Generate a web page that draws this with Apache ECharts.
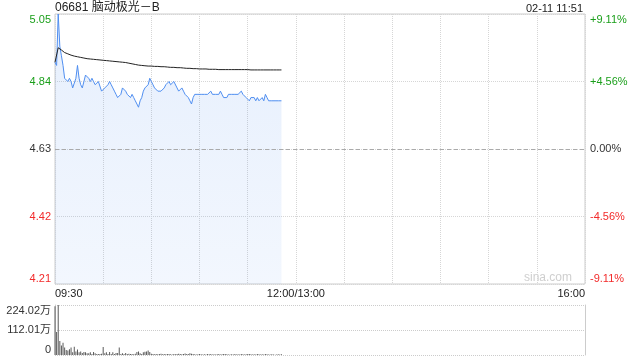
<!DOCTYPE html>
<html>
<head>
<meta charset="utf-8">
<script src="https://cdn.jsdelivr.net/npm/echarts@6/dist/echarts.min.js"></script>
<style>html,body{margin:0;padding:0;background:#fff;}#c{width:640px;height:360px;}</style>
</head>
<body>
<div id="c"></div>
<script>
// ---- data ----
var titleText = '06681 脑动极光－B';
var timeText = '02-11 11:51';
var prevClose = 4.63;
var priceTickLabels = ['4.21', '4.42', '4.63', '4.84', '5.05'];
var pctTickLabels = ['-9.11%', '-4.56%', '0.00%', '+4.56%', '+9.11%'];
var volTickLabels = ['0', '112.01万', '224.02万'];
var volTickValues = [0, 112.01, 224.02];
var timeTickPos = [0, 150, 330];
var timeTickLabels = ['09:30', '12:00/13:00', '16:00'];
var sessionMinutes = 330;

var prices = [
4.90,4.89,5.05,4.95,4.92,4.89,4.85,4.85,4.84,4.85,
4.84,4.82,4.82,4.85,4.89,4.85,4.83,4.82,4.84,4.86,
4.86,4.85,4.84,4.85,4.84,4.83,4.83,4.84,4.84,4.81,
4.81,4.82,4.82,4.83,4.84,4.83,4.82,4.81,4.80,4.79,
4.79,4.80,4.82,4.82,4.81,4.80,4.80,4.79,4.80,4.79,
4.78,4.77,4.76,4.78,4.79,4.81,4.82,4.82,4.83,4.85,
4.84,4.83,4.82,4.82,4.81,4.81,4.81,4.81,4.82,4.83,
4.83,4.84,4.83,4.83,4.84,4.84,4.82,4.81,4.81,4.82,
4.81,4.80,4.80,4.79,4.78,4.77,4.79,4.80,4.80,4.80,
4.80,4.80,4.80,4.80,4.80,4.80,4.80,4.81,4.80,4.80,
4.80,4.80,4.80,4.81,4.80,4.79,4.79,4.79,4.80,4.80,
4.80,4.80,4.80,4.80,4.80,4.80,4.81,4.80,4.80,4.79,
4.79,4.78,4.79,4.79,4.79,4.78,4.79,4.78,4.78,4.79,
4.78,4.80,4.79,4.78,4.78,4.78,4.78,4.78,4.78,4.78,
4.78,4.78
];

var avgPrices = [
4.900,4.899,4.945,4.942,4.938,4.934,4.930,4.928,4.926,4.924,
4.922,4.920,4.919,4.918,4.917,4.916,4.915,4.914,4.913,4.912,
4.911,4.911,4.910,4.910,4.909,4.909,4.908,4.908,4.907,4.907,
4.906,4.906,4.905,4.905,4.904,4.904,4.903,4.903,4.902,4.902,
4.901,4.900,4.900,4.899,4.899,4.898,4.897,4.896,4.895,4.894,
4.893,4.892,4.891,4.891,4.890,4.890,4.889,4.889,4.888,4.888,
4.888,4.887,4.887,4.887,4.887,4.886,4.886,4.886,4.886,4.885,
4.885,4.885,4.884,4.884,4.884,4.884,4.883,4.883,4.883,4.882,
4.882,4.882,4.881,4.881,4.881,4.880,4.880,4.880,4.880,4.879,
4.879,4.879,4.879,4.879,4.879,4.878,4.878,4.878,4.878,4.878,
4.878,4.877,4.877,4.877,4.877,4.877,4.877,4.877,4.877,4.877,
4.877,4.877,4.877,4.877,4.877,4.877,4.877,4.877,4.877,4.877,
4.877,4.876,4.876,4.876,4.876,4.876,4.876,4.876,4.876,4.876,
4.876,4.876,4.876,4.876,4.876,4.876,4.876,4.876,4.876,4.876,
4.876,4.876
];

var volumes = [
218,103,224.02,63,43,55,34,22,20,26,
34,12,37,16,25,12,16,9,14,12,
8,8,12,5,14,8,4,4,5,6,
36,8,12,5,14,5,12,5,9,9,
34,5,8,4,9,4,6,4,5,3,
6,14,16,8,5,12,15,16,20,14,
6,4,3,5,3,4,6,3,4,3,
5,4,3,2,4,3,5,6,4,3,
5,7,4,5,8,6,4,3,2,3,
4,3,2,3,2,4,3,5,2,3,
2,3,4,2,3,4,5,3,2,2,
3,2,4,2,3,2,4,3,2,3,
5,4,3,2,3,2,4,3,2,3,
2,4,3,2,2,3,2,1,2,3,
2,3
];

// ---- chart ----
var GREEN = '#1a9f1a', RED = '#f22a2a', DARK = '#333';
var FONT = '"Liberation Sans", Arial, "Noto Sans CJK SC", sans-serif';
var priceTickValues = priceTickLabels.map(Number);
var yMin = priceTickValues[0], yMax = priceTickValues[priceTickValues.length - 1];

function nearestIdx(arr, v) {
  var best = 0, d = Infinity;
  for (var i = 0; i < arr.length; i++) { var dd = Math.abs(arr[i] - v); if (dd < d) { d = dd; best = i; } }
  return best;
}
function styleFor(i, n) {
  var mid = (n - 1) / 2;
  var base = i > mid ? 'g' : (i < mid ? 'r' : 'k');
  if (i === n - 1) return base + 'T';
  if (i === 0) return base + 'B';
  return base;
}
function richSet(align) {
  var s = {};
  var cols = { g: GREEN, r: RED, k: DARK };
  Object.keys(cols).forEach(function (k) {
    s[k] = { color: cols[k], fontSize: 11, fontFamily: FONT, align: align };
    s[k + 'T'] = { color: cols[k], fontSize: 11, fontFamily: FONT, align: align, padding: [11, 0, 0, 0] };
    s[k + 'B'] = { color: cols[k], fontSize: 11, fontFamily: FONT, align: align, padding: [0, 0, 11, 0] };
  });
  return s;
}

var chart = echarts.init(document.getElementById('c'), null, { renderer: 'canvas' });
var priceData = prices.map(function (p, i) { return [i, p]; });
var avgData = avgPrices.map(function (p, i) { return [i, p]; });
var volData = volumes.map(function (v, i) { return [i, v]; });

chart.setOption({
  animation: false,
  backgroundColor: '#fff',
  textStyle: { fontFamily: FONT },
  graphic: [
    { type: 'text', left: 55, top: 2, style: { text: titleText, fontSize: 12, fill: '#222', fontFamily: FONT } },
    { type: 'text', right: 57, top: 3, style: { text: timeText, fontSize: 11, fill: '#222', fontFamily: FONT } },
    { type: 'text', right: 68, top: 272, z: 0, style: { text: 'sina.com', fontSize: 12, fill: '#cfcfcf', fontFamily: FONT } }
  ],
  grid: [
    { left: 55, right: 55, top: 14, height: 270, show: true, borderColor: '#cccccc', borderWidth: 1 },
    { left: 55, right: 55, top: 305, height: 50, show: false }
  ],
  xAxis: [
    {
      gridIndex: 0, type: 'value', min: 0, max: sessionMinutes, interval: 30,
      axisLine: { show: false }, axisTick: { show: false },
      splitLine: { show: true, lineStyle: { color: '#d6d6d6', type: 'dotted', width: 1 } },
      axisLabel: {
        show: true, customValues: timeTickPos, margin: 4, fontSize: 11, color: '#222', fontFamily: FONT,
        alignMinLabel: 'left', alignMaxLabel: 'right',
        formatter: function (v) { return timeTickLabels[nearestIdx(timeTickPos, v)]; }
      }
    },
    {
      gridIndex: 1, type: 'value', min: 0, max: sessionMinutes, interval: 30,
      axisLine: { show: false }, axisTick: { show: false }, axisLabel: { show: false }, splitLine: { show: false }
    }
  ],
  yAxis: [
    {
      gridIndex: 0, type: 'value', min: yMin, max: yMax, position: 'left',
      axisLine: { show: false },
      axisTick: { show: false, customValues: priceTickValues },
      splitLine: { show: true, lineStyle: { color: '#d6d6d6', type: 'dotted', width: 1 } },
      axisLabel: {
        customValues: priceTickValues, margin: 4,
        formatter: function (v) {
          var i = nearestIdx(priceTickValues, v);
          return '{' + styleFor(i, priceTickValues.length) + '|' + priceTickLabels[i] + '}';
        },
        rich: richSet('right')
      }
    },
    {
      gridIndex: 0, type: 'value', min: yMin, max: yMax, position: 'right',
      axisLine: { show: false },
      axisTick: { show: false, customValues: priceTickValues },
      splitLine: { show: false },
      axisLabel: {
        customValues: priceTickValues, margin: 5,
        formatter: function (v) {
          var i = nearestIdx(priceTickValues, v);
          return '{' + styleFor(i, priceTickValues.length) + '|' + pctTickLabels[i] + '}';
        },
        rich: richSet('left')
      }
    },
    {
      gridIndex: 1, type: 'value', min: 0, max: volTickValues[volTickValues.length - 1], position: 'left',
      axisLine: { show: true, lineStyle: { color: '#cccccc', width: 1 } },
      axisTick: { show: false, customValues: volTickValues },
      splitLine: { show: true, lineStyle: { color: '#cccccc', type: 'dotted', width: 1 } },
      axisLabel: {
        customValues: volTickValues, margin: 4,
        formatter: function (v) {
          var i = nearestIdx(volTickValues, v);
          var st = i === volTickValues.length - 1 ? 'kT' : (i === 0 ? 'kB' : 'k');
          return '{' + st + '|' + volTickLabels[i] + '}';
        },
        rich: richSet('right')
      }
    },
    {
      gridIndex: 1, type: 'value', min: 0, max: volTickValues[volTickValues.length - 1], position: 'right',
      axisLine: { show: true, lineStyle: { color: '#cccccc', width: 1 } },
      axisTick: { show: false }, axisLabel: { show: false }, splitLine: { show: false }
    }
  ],
  series: [
    {
      type: 'line', xAxisIndex: 0, yAxisIndex: 0, data: priceData, showSymbol: false, symbol: 'none',
      lineStyle: { color: '#4f8ef0', width: 1 },
      areaStyle: {
        origin: 'start',
        color: new echarts.graphic.LinearGradient(0, 0, 0, 1, [
          { offset: 0, color: 'rgba(79,142,240,0.20)' },
          { offset: 1, color: 'rgba(79,142,240,0.10)' }
        ])
      },
      markLine: {
        silent: true, symbol: ['none', 'none'], label: { show: false },
        lineStyle: { color: '#aaaaaa', type: [4, 3], width: 1 },
        data: [{ yAxis: prevClose }]
      },
      z: 3
    },
    {
      type: 'line', xAxisIndex: 0, yAxisIndex: 0, data: avgData, showSymbol: false, symbol: 'none',
      lineStyle: { color: '#222222', width: 1 }, z: 4
    },
    {
      type: 'bar', xAxisIndex: 1, yAxisIndex: 2, data: volData, barWidth: 1,
      itemStyle: { color: '#5a5a5a' }
    }
  ]
});
</script>
</body>
</html>
